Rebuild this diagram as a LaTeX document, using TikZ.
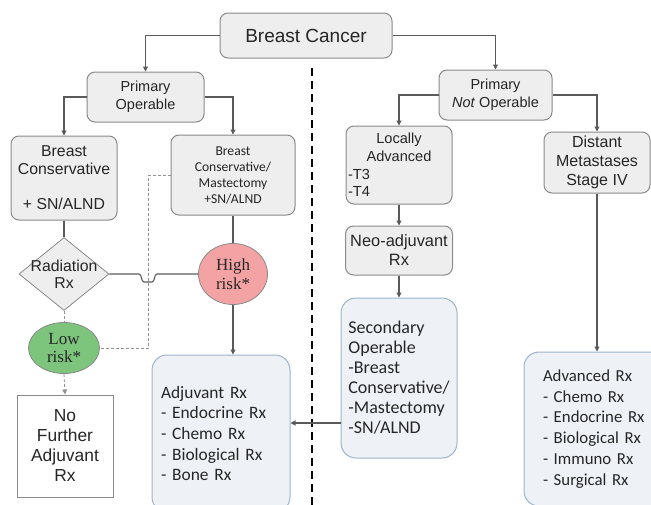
\documentclass[tikz,border=0pt]{standalone}
\usepackage{fontspec}
\setmainfont{Liberation Sans}
\newfontfamily\calfont{Carlito}
\newfontfamily\romfont{Liberation Serif}
\usepackage{xcolor}
\usetikzlibrary{shapes.geometric, arrows.meta, positioning, calc}

\definecolor{boxfill}{HTML}{EEEEEE}
\definecolor{boxline}{HTML}{8A8A8A}
\definecolor{bluefill}{HTML}{EEF2F7}
\definecolor{blueline}{HTML}{9DB4CC}
\definecolor{highfill}{HTML}{F3A3A3}
\definecolor{lowfill}{HTML}{7DC47C}
\definecolor{linkgray}{HTML}{5A5A5A}

\newcommand{\fsz}[2]{\fontsize{#1}{#2}\selectfont}
\newcommand{\ctrline}[1]{\hfill#1\hfill\null}

\tikzset{
  graybox/.style={draw=boxline, fill=boxfill, line width=1pt, rounded corners=8pt,
    align=center, inner sep=2pt, text=black!85},
  bluebox/.style={draw=blueline, fill=bluefill, line width=1pt, rounded corners=15pt,
    align=left, text=black!85, font=\calfont},
  riskbox/.style={ellipse, draw=boxline, line width=0.8pt, inner sep=0pt,
    align=center, font=\romfont\fsz{17}{19}, text=black!85},
  link/.style={draw=linkgray, line width=1.1pt},
  arr/.style={link, -{Triangle[width=5pt,length=5pt]}},
  dashlink/.style={draw=gray!85, line width=0.8pt, dash pattern=on 3pt off 2pt},
  divider/.style={draw=black, line width=2.2pt, dash pattern=on 8pt off 5pt}
}

\begin{document}
\begin{tikzpicture}[x=1pt,y=-1pt]
\useasboundingbox (0,0) rectangle (651,504);
\clip (0,0) rectangle (651,504);

% top
\node[graybox, minimum width=172, minimum height=45, font=\fsz{19}{22}] (cancer) at (306,35.5) {Breast Cancer};
\node[graybox, minimum width=117, minimum height=50, font=\fsz{14.5}{18}] (primop) at (145.5,97) {Primary\\Operable};
\node[graybox, minimum width=113, minimum height=50, font=\fsz{14.5}{18}] (notop) at (495.5,95) {Primary\\\textit{Not} Operable};

% operable side
\node[graybox, minimum width=106, minimum height=84, font=\fsz{15.8}{18}] (bcons) at (64,178) {Breast\\Conservative\\[17pt]+ SN/ALND};
\node[graybox, minimum width=124, minimum height=80, font=\calfont\fsz{13.6}{16}] (bcm) at (233,175) {Breast\\Conservative/\\Mastectomy\\+SN/ALND};
\node[diamond, draw=boxline, fill=boxfill, line width=0.8pt, minimum width=90, minimum height=73,
  inner xsep=-14pt, inner ysep=-8pt, align=center, font=\fsz{15.8}{16.7}, text=black!85] (radiation) at (64,274) {Radiation\\Rx};
\node[riskbox, fill=highfill, minimum width=69, minimum height=61] (high) at (233,274) {High\\risk*};
\node[riskbox, fill=lowfill, minimum width=71, minimum height=51, font=\romfont\fsz{17}{18}] (low) at (64,348) {Low\\risk*};
\node[draw=boxline, fill=white, line width=1pt, minimum width=96, minimum height=102, align=center,
  font=\fsz{17.4}{20}, text=black!85] (nofurther) at (65,446) {No\\Further\\Adjuvant\\Rx};
\node[bluebox, minimum width=138, minimum height=157, text width=120pt, inner xsep=9pt, font=\calfont\fsz{17.4}{20.6}] (adj) at (221,433.5)
  {Adjuvant Rx\\- Endocrine Rx\\- Chemo Rx\\- Biological Rx\\- Bone Rx};

% not operable side
\node[graybox, minimum width=106, minimum height=78, text width=102pt, align=left, font=\fsz{14.6}{17.7}] (locally) at (399,165)
  {\ctrline{Locally}\\\ctrline{Advanced}\\-T3\\-T4};
\node[graybox, minimum width=106, minimum height=61, font=\fsz{16}{19}] (distant) at (597,162.5) {Distant\\Metastases\\Stage IV};
\node[graybox, minimum width=107, minimum height=49, font=\fsz{16.4}{19}] (neo) at (399,250.5) {Neo-adjuvant\\Rx};
\node[bluebox, minimum width=116, minimum height=160, inner xsep=7pt, font=\calfont\fsz{18}{20}] (second) at (399,378)
  {Secondary\\Operable\\-Breast\\Conservative/\\-Mastectomy\\-SN/ALND};
\node[bluebox, minimum width=146, minimum height=154, text width=108pt, inner xsep=19pt, font=\calfont\fsz{16.8}{20.9}] (adv) at (597,429)
  {Advanced Rx\\- Chemo Rx\\- Endocrine Rx\\- Biological Rx\\- Immuno Rx\\- Surgical Rx};

% divider
\draw[divider] (312,68) -- (312,510);

% connectors
\draw[arr] (cancer.west) -| (primop.north);
\draw[arr] (cancer.east) -| (notop.north);
\draw[arr] (primop.west) -| (bcons.north);
\draw[arr] (primop.east) -| (bcm.north);
\draw[arr] (notop.west) -| (locally.north);
\draw[arr] (notop.east) -| (distant.north);
\draw[link] (bcons.south) -- (radiation.north);
\draw[link] (bcm.south) -- (high.north);
\coordinate (hop) at (148,274);
\draw[link] (radiation.east) -- ($(hop)+(-9,0)$) .. controls +(3,0) and +(-3,0) .. ($(hop)+(-4,8)$)
  -- ($(hop)+(4,8)$) .. controls +(3,0) and +(-3,0) .. ($(hop)+(9,0)$) -- (high.west);
\draw[dashlink] (bcm.west) -| (hop |- low) -- (low.east);
\draw[dashlink] (radiation.south) -- (low.north);
\draw[dashlink, -{Triangle[width=5pt,length=5pt]}] (low.south) -- (nofurther.north);
\draw[arr] (high.south) -- (high |- adj.north);
\draw[arr] (locally.south) -- (neo.north);
\draw[arr] (neo.south) -- (second.north);
\draw[arr] ([yshift=-45pt]second.west) coordinate (s) -- (s -| adj.east);
\draw[arr] (distant.south) -- (adv.north);
\end{tikzpicture}
\end{document}
